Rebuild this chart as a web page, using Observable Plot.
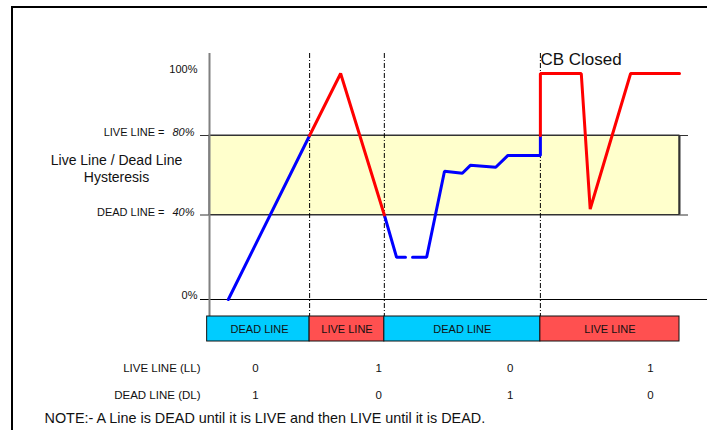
<!DOCTYPE html>
<html><head><meta charset="utf-8">
<script src="https://cdn.jsdelivr.net/npm/d3@7"></script>
<script src="https://cdn.jsdelivr.net/npm/@observablehq/plot@0.6"></script>
<style>
html,body{margin:0;padding:0;background:#fff;overflow:hidden;}
#wrap{position:relative;width:707px;height:430px;}
#frame{position:absolute;left:11px;top:6px;width:800px;height:500px;border-left:2px solid #000;border-top:2px solid #000;pointer-events:none;}
</style></head><body>
<div id="wrap"><div id="frame"></div></div>
<script>
// time in arbitrary units (0–100), level in %
const deadTime  = [4, 21.3, null, 37.2, 39.8, 41.7, null, 43.2, 46.2, 50, 53.8, 55.5, 60.9, 63.5, 70.4, 70.4];
const deadLevel = [0, 80,   null, 40,   20,   20,   null, 20,   20,   62, 61,   65,   64,   70,   70,   80];
const liveTime  = [21.3, 27.9, 37.2, null, 70.4, 70.4, 79.1, 81, 89.6, 100];
const liveLevel = [80,   100,  40,   null, 80,   100,  100,  43, 100,  100];
const stateStart = [-0.5, 21.3, 37.2, 70.4];
const stateEnd   = [21.3, 37.2, 70.4, 100];
const stateLabel = ["DEAD LINE", "LIVE LINE", "DEAD LINE", "LIVE LINE"];
const stateColor = ["#00CCFF", "#FF5050", "#00CCFF", "#FF5050"];
const switchTimes = [21.3, 37.2, 70.4];
const liveThreshold = 80;
const deadThreshold = 40;
const plainTicks = [100, 0];
const plainTickText = ["100%", "0%"];
const italicTicks = [80, 40];
const italicTickText = ["80%", "40%"];
const tickPrefix = ["LIVE LINE =", "DEAD LINE ="];
const flagTime = [9.8, 36, 64, 93.8];
const llFlag = [0, 1, 0, 1];
const dlFlag = [1, 0, 1, 0];
const cbTime = 70.4;

const toPts = (ts, vs) => ts.map((t, i) => ({t: t == null ? NaN : t, v: vs[i] == null ? NaN : vs[i]}));
const deadPts = toPts(deadTime, deadLevel);
const livePts = toPts(liveTime, liveLevel);
const states = stateLabel.map((s, i) => ({s, x1: stateStart[i], x2: stateEnd[i], c: stateColor[i], mid: (Math.max(0, stateStart[i]) + stateEnd[i]) / 2}));

const chart = Plot.plot({
  width: 707, height: 430,
  marginLeft: 209, marginRight: 28, marginTop: 53, marginBottom: 114,
  style: {background: "transparent", fontFamily: "'Liberation Sans', Arial, sans-serif", fontSize: "11px", color: "#111"},
  x: {type: "linear", domain: [0, 100], axis: null},
  y: {type: "linear", domain: [0, 40, 80, 100], range: [299, 214.5, 135, 73], axis: null},
  marks: [
    Plot.rect([0], {x1: 0, x2: 100, y1: deadThreshold, y2: liveThreshold, fill: "#FFFFCC", stroke: "#333", strokeWidth: 1}),
    Plot.ruleY([liveThreshold, deadThreshold], {stroke: "#333", strokeWidth: 1, insetLeft: -9, insetRight: -9}),
    Plot.ruleX([100], {y1: deadThreshold, y2: liveThreshold, stroke: "#333", strokeWidth: 2}),
    Plot.ruleY([0], {stroke: "#000", strokeWidth: 1, insetLeft: -9, insetRight: -28}),
    Plot.ruleX([0], {stroke: "#808080", strokeWidth: 2}),
    Plot.ruleX(switchTimes, {stroke: "#000", strokeWidth: 1, strokeDasharray: "5,2,1,2"}),
    Plot.rect(states, {x1: "x1", x2: "x2", fill: "c", stroke: "#111", strokeWidth: 1, insetTop: 263, insetBottom: -25}),
    Plot.text(states, {x: "mid", text: "s", frameAnchor: "bottom", lineAnchor: "middle", dy: 12.5, fill: "#111"}),
    Plot.line(deadPts, {x: "t", y: "v", stroke: "#0000FF", strokeWidth: 3, strokeLinejoin: "miter"}),
    Plot.line(livePts, {x: "t", y: "v", stroke: "#FF0000", strokeWidth: 3, strokeLinejoin: "miter"}),
    Plot.text(plainTicks, {x: 0, y: d => d, text: (d, i) => plainTickText[i], textAnchor: "end", dx: -12, dy: -4, fill: "#111"}),
    Plot.text(italicTicks, {x: 0, y: d => d, text: (d, i) => italicTickText[i], textAnchor: "end", dx: -15, dy: -3, fontStyle: "italic", fill: "#111"}),
    Plot.text(italicTicks, {x: 0, y: d => d, text: (d, i) => tickPrefix[i], textAnchor: "end", dx: -45, dy: -3, fill: "#111"}),
    Plot.text(["Live Line / Dead Line\nHysteresis"], {y: 60, frameAnchor: "left", text: d => d, textAnchor: "middle", lineAnchor: "middle", lineHeight: 1.2, dx: -93, dy: -7, fontSize: 14, fill: "#111"}),
    Plot.text(["CB Closed"], {x: cbTime, y: 100, text: d => d, textAnchor: "start", dy: -14, fontSize: 17, fill: "#111"}),
    Plot.text(["LIVE LINE (LL)"], {frameAnchor: "bottom-left", text: d => d, textAnchor: "end", lineAnchor: "middle", dx: -9, dy: 52, fontSize: 11.5, fill: "#111"}),
    Plot.text(["DEAD LINE (DL)"], {frameAnchor: "bottom-left", text: d => d, textAnchor: "end", lineAnchor: "middle", dx: -9, dy: 79, fontSize: 11.5, fill: "#111"}),
    Plot.text(llFlag, {x: (d, i) => flagTime[i], frameAnchor: "bottom", text: d => String(d), lineAnchor: "middle", dy: 52, fontSize: 11.5, fill: "#111"}),
    Plot.text(dlFlag, {x: (d, i) => flagTime[i], frameAnchor: "bottom", text: d => String(d), lineAnchor: "middle", dy: 79, fontSize: 11.5, fill: "#111"}),
    Plot.text(["NOTE:- A Line is DEAD until it is LIVE and then LIVE until it is DEAD."], {frameAnchor: "bottom-left", text: d => d, textAnchor: "start", lineAnchor: "middle", dx: -165, dy: 102, fontSize: 14.4, fill: "#111"})
  ]
});
document.getElementById("wrap").prepend(chart);
chart.style.position = "absolute";
chart.style.left = "0";
chart.style.top = "0";
</script>
</body></html>
